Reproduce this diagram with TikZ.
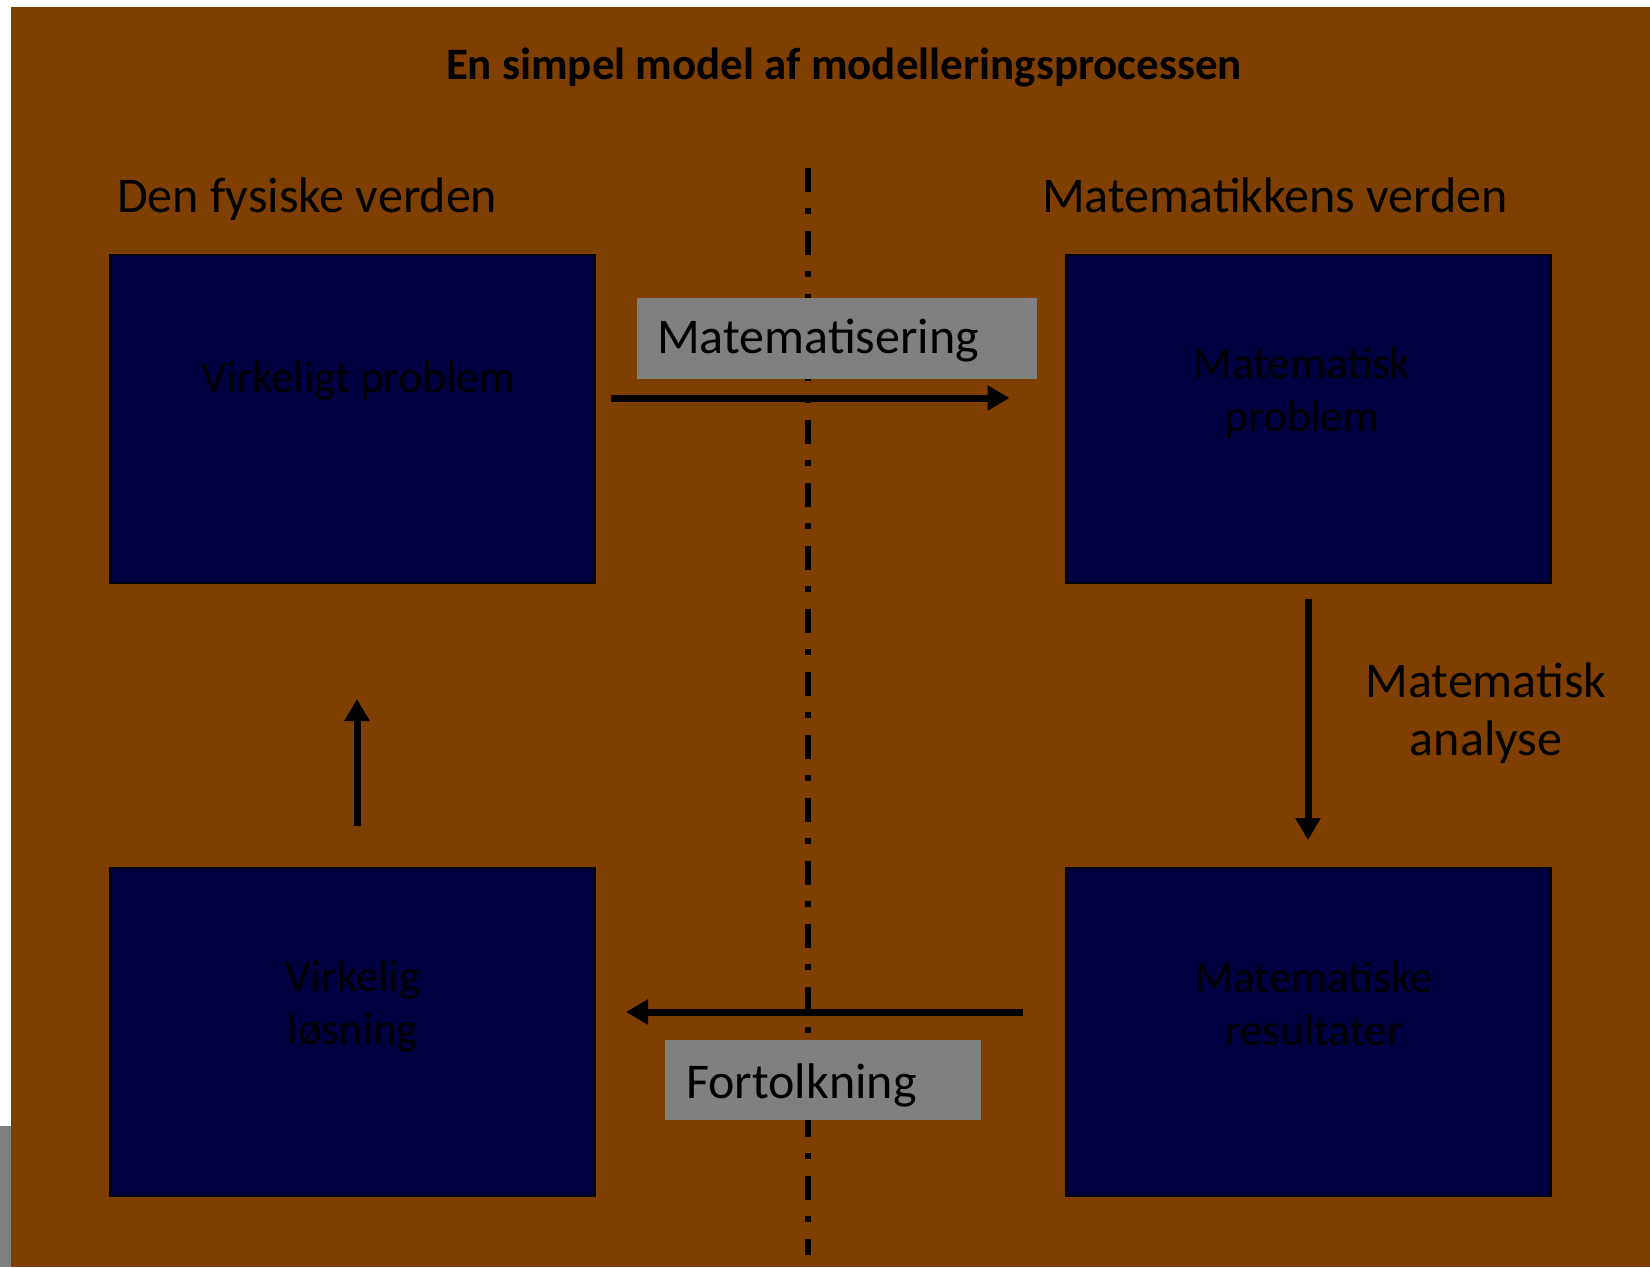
\documentclass[tikz,border=0pt]{standalone}
\usepackage{fontspec}
\setmainfont{Carlito}
\usetikzlibrary{arrows.meta,calc}
\definecolor{bgbrown}{RGB}{127,63,0}
\definecolor{boxnavy}{RGB}{0,0,64}
\definecolor{labgray}{RGB}{128,128,128}
\begin{document}
\begin{tikzpicture}[x=1pt,y=-1pt,
  box/.style={draw=black, line width=2pt, fill=boxnavy, minimum width=485pt, minimum height=328pt, inner sep=0pt},
  boxtxt/.style={font=\fontsize{45}{53}\selectfont, text=black, align=center, anchor=base, inner sep=0pt},
  heading/.style={font=\fontsize{50}{58}\selectfont, text=black, anchor=base west, inner sep=0pt},
  lab/.style={font=\fontsize{50}{58}\selectfont, text=black, align=center, anchor=base, inner sep=0pt},
  graybox/.style={fill=labgray, inner sep=0pt, anchor=north west},
  flow/.style={line width=7pt, draw=black, -{Triangle[length=22pt,width=24pt]}},
  divider/.style={line width=6pt, draw=black, dash pattern=on 24pt off 16pt on 6pt off 17pt},
]
\useasboundingbox (0,0) rectangle (1650,1267);
% page
\fill[white] (0,0) rectangle (1650,1267);
\fill[bgbrown] (11,7) rectangle (1650,1267);
\fill[labgray] (0,1126) rectangle (11,1267);

% title and headings
\node[font=\fontsize{45}{54}\selectfont\bfseries, text=black, anchor=base, inner sep=0pt] (title) at (844,79) {En simpel model af modelleringsprocessen};
\node[heading] (hphys) at (117,212) {Den fysiske verden};
\node[heading] (hmath) at (1042,212) {Matematikkens verden};

% divider
\coordinate (dtop) at (808,168);
\coordinate (dbot) at (808,1255);
\draw[divider] (dtop) -- (dbot);

% boxes
\node[box] (vp) at (352.5,419) {};
\node[box] (mp) at (1308,419) {};
\node[box] (vl) at (352.5,1032) {};
\node[box] (mr) at (1308,1032) {};

\node[boxtxt] (tvp) at (358,392) {Virkeligt problem};
\node[boxtxt] (tmp) at (1302,431) {Matematisk\\problem};
\node[boxtxt] (tvl) at (353,1044) {Virkelig\\løsning};
\node[boxtxt] (tmr) at (1314,1045) {Matematiske\\resultater};

% gray labels
\node[graybox, minimum width=400pt, minimum height=81pt] (gmat) at (637,298) {};
\node[heading] (lmat) at (657,353) {Matematisering};
\node[graybox, minimum width=316pt, minimum height=80pt] (gfor) at (665,1040) {};
\node[heading] (lfor) at (686,1098) {Fortolkning};
\node[lab] (lana) at (1486,755) {Matematisk\\analyse};

% arrows
\coordinate (a1s) at ($(vp.east)+(15,-21)$);
\coordinate (a1e) at ($(mp.west)+(-55,-21)$);
\coordinate (a2s) at ($(mp.south)+(0,15)$);
\coordinate (a2e) at ($(mr.north)+(0,-27)$);
\coordinate (a3s) at ($(mr.west)+(-42,-20)$);
\coordinate (a3e) at ($(vl.east)+(30,-20)$);
\coordinate (a4s) at ($(vl.north)+(4.5,-41)$);
\coordinate (a4e) at ($(vp.south)+(4.5,115)$);
\draw[flow] (a1s) -- (a1e);
\draw[flow] (a2s) -- (a2e);
\draw[flow] (a3s) -- (a3e);
\draw[flow] (a4s) -- (a4e);
\end{tikzpicture}
\end{document}
